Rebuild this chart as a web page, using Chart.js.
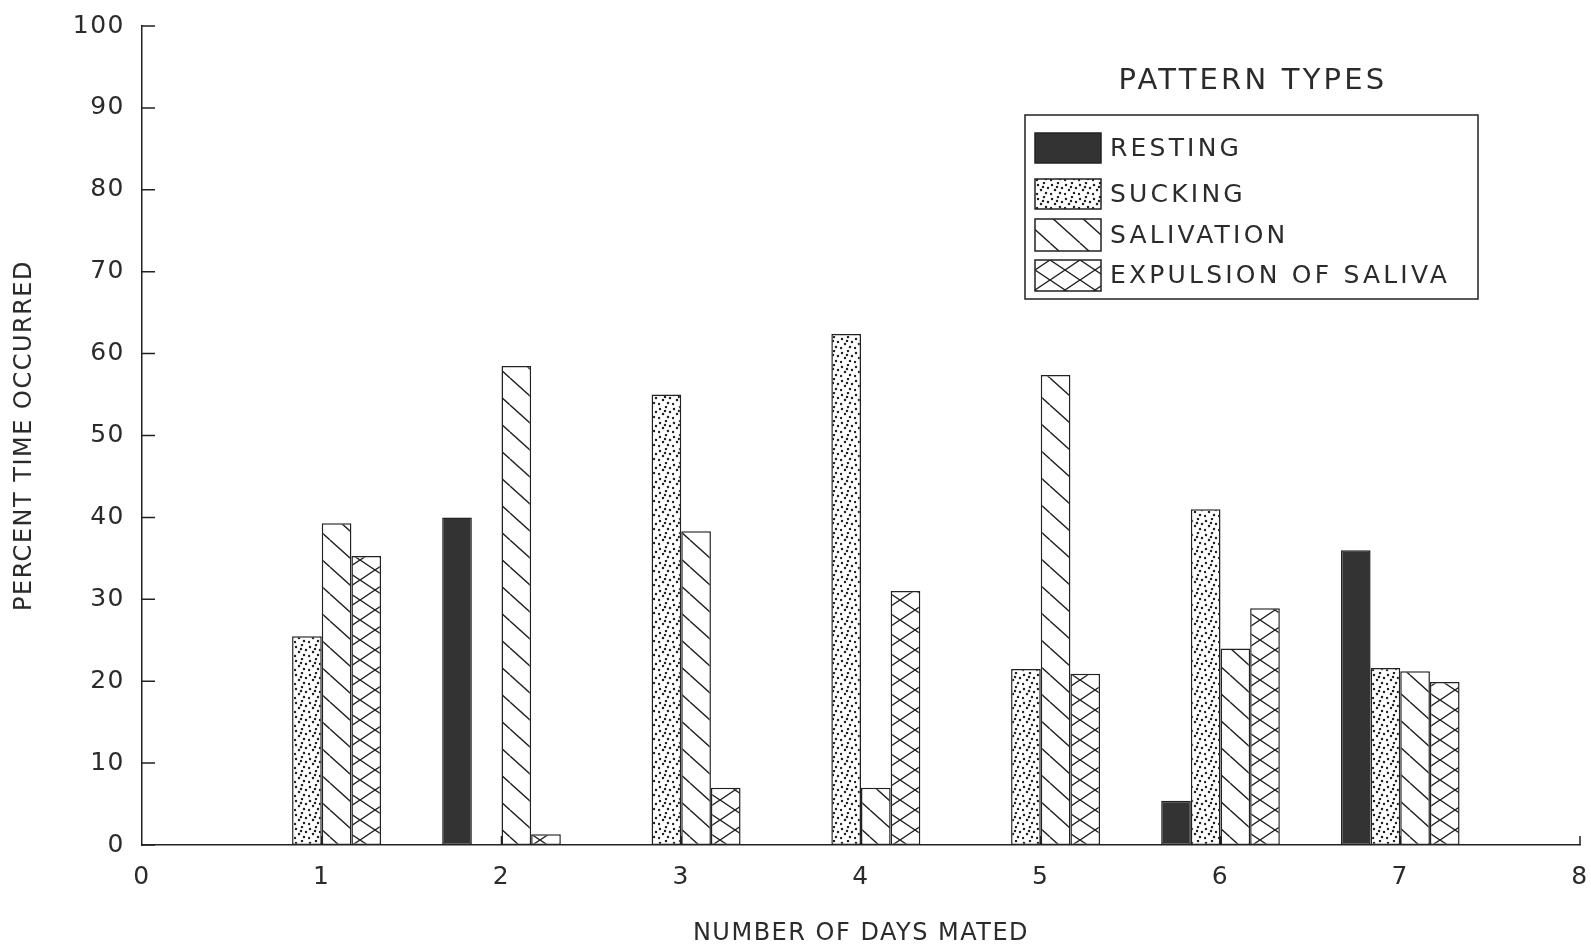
<!DOCTYPE html>
<html>
<head>
<meta charset="utf-8">
<script src="https://cdn.jsdelivr.net/npm/chart.js@4.4.1/dist/chart.umd.min.js"></script>
<style>
  html, body { margin: 0; background: #fff; }
  #wrap { width: 1591px; height: 952px; position: relative; }
</style>
</head>
<body>
<div id="wrap"><canvas id="patternChart"></canvas></div>
<script>
const DAYS = [1, 2, 3, 4, 5, 6, 7];
const RESTING = [0, 40, 0, 0, 0, 5.4, 36];
const SUCKING = [25.5, 0, 55, 62.4, 21.5, 41, 21.6];
const SALIVATION = [39.3, 58.5, 38.3, 7, 57.4, 24, 21.2];
const EXPULSION = [35.3, 1.3, 7, 31, 20.9, 28.9, 19.9];

const X_TICKS = [0, 1, 2, 3, 4, 5, 6, 7, 8];
const Y_TICKS = [0, 10, 20, 30, 40, 50, 60, 70, 80, 90, 100];

const LEGEND_TITLE = 'PATTERN TYPES';
const X_TITLE = 'NUMBER OF DAYS MATED';
const Y_TITLE = 'PERCENT TIME OCCURRED';

const INK = '#222';
const TEXT = '#2b2b2b';
const FONT = "'DejaVu Sans', sans-serif";

Chart.defaults.font.family = FONT;
Chart.defaults.color = TEXT;

// hatch fills, built on small tiles
function makePattern(w, h, paint) {
    const c = document.createElement('canvas');
    c.width = w;
    c.height = h;
    const g = c.getContext('2d');
    g.fillStyle = '#fff';
    g.fillRect(0, 0, w, h);
    g.strokeStyle = INK;
    g.fillStyle = INK;
    g.lineWidth = 1.4;
    paint(g, w, h);
    return g.createPattern(c, 'repeat');
}

const dotFill = makePattern(14, 14, g => {
    [[2, 3], [8, 1], [12, 6], [5, 8], [10, 11], [1, 12], [7, 5]].forEach(([x, y]) => {
        g.beginPath();
        g.arc(x, y, 1.25, 0, Math.PI * 2);
        g.fill();
    });
});

const diagFill = makePattern(30, 27, (g, w, h) => {
    g.beginPath();
    for (let k = -1; k <= 1; k++) {
        g.moveTo(k * w, 0);
        g.lineTo(k * w + w, h);
    }
    g.stroke();
});

const crossFill = makePattern(30, 20, (g, w, h) => {
    g.beginPath();
    for (let k = -1; k <= 1; k++) {
        g.moveTo(k * w, 0);
        g.lineTo(k * w + w, h);
        g.moveTo(k * w, h);
        g.lineTo(k * w + w, 0);
    }
    g.stroke();
});

function series(values) {
    return DAYS.map((d, i) => ({ x: d, y: values[i] }));
}

const spacing = {
    id: 'spacing',
    beforeDraw(chart) {
        chart.ctx.letterSpacing = '1.5px';
    }
};

const inwardTicks = {
    id: 'inwardTicks',
    beforeDatasetsDraw(chart) {
        const { ctx, chartArea, scales: { x, y } } = chart;
        ctx.save();
        ctx.strokeStyle = INK;
        ctx.lineWidth = 1.5;
        ctx.beginPath();
        y.ticks.forEach(t => {
            const py = y.getPixelForValue(t.value);
            ctx.moveTo(chartArea.left, py);
            ctx.lineTo(chartArea.left + 13, py);
        });
        x.ticks.forEach(t => {
            if (t.value === 0) return;
            const px = x.getPixelForValue(t.value);
            ctx.moveTo(px, chartArea.bottom);
            ctx.lineTo(px, chartArea.bottom - 9);
        });
        ctx.stroke();
        ctx.restore();
    }
};

const boxLegend = {
    id: 'boxLegend',
    afterDraw(chart) {
        const ctx = chart.ctx;
        ctx.save();
        ctx.letterSpacing = '3.2px';
        ctx.fillStyle = TEXT;
        ctx.textBaseline = 'middle';
        ctx.textAlign = 'center';
        ctx.font = '29px ' + FONT;
        ctx.fillText(LEGEND_TITLE, 1253, 81);

        ctx.strokeStyle = INK;
        ctx.lineWidth = 1.5;
        ctx.strokeRect(1025, 115, 453, 184);

        const rows = [[133, 163], [179, 209], [219, 251], [260, 291]];
        ctx.font = '25px ' + FONT;
        ctx.textAlign = 'left';
        chart.data.datasets.forEach((ds, i) => {
            const [top, bottom] = rows[i];
            ctx.fillStyle = ds.backgroundColor;
            ctx.fillRect(1035, top, 66, bottom - top);
            ctx.strokeRect(1035, top, 66, bottom - top);
            ctx.fillStyle = TEXT;
            ctx.fillText(ds.label, 1110, (top + bottom) / 2 + 1);
        });
        ctx.restore();
    }
};

function barSet(label, values, fill) {
    return {
        label: label,
        data: series(values),
        backgroundColor: fill,
        borderColor: INK,
        borderWidth: 1.5,
        borderSkipped: false,
        categoryPercentage: 0.66,
        barPercentage: 1.0
    };
}

new Chart(document.getElementById('patternChart'), {
    type: 'bar',
    data: {
        datasets: [
            barSet('RESTING', RESTING, '#333'),
            barSet('SUCKING', SUCKING, dotFill),
            barSet('SALIVATION', SALIVATION, diagFill),
            barSet('EXPULSION OF SALIVA', EXPULSION, crossFill)
        ]
    },
    plugins: [spacing, inwardTicks, boxLegend],
    options: {
        responsive: true,
        maintainAspectRatio: false,
        animation: false,
        layout: { padding: { top: 26, right: 11, left: 0, bottom: 0 } },
        plugins: {
            legend: { display: false },
            tooltip: { enabled: false }
        },
        scales: {
            x: {
                type: 'linear',
                min: 0,
                max: 8,
                offset: false,
                grid: { display: false, drawTicks: false },
                border: { display: true, color: INK, width: 1.5 },
                afterBuildTicks: s => { s.ticks = X_TICKS.map(v => ({ value: v })); },
                afterFit: s => {
                    s.height = 107;
                    s.paddingLeft = 0;
                    s.paddingRight = 0;
                },
                ticks: { font: { size: 25 }, color: TEXT, padding: 17 },
                title: {
                    display: true,
                    text: X_TITLE,
                    font: { size: 24 },
                    color: TEXT,
                    padding: { top: 0, bottom: 4 }
                }
            },
            y: {
                min: 0,
                max: 100,
                grid: { display: false, drawTicks: false },
                border: { display: true, color: INK, width: 1.5 },
                afterBuildTicks: s => { s.ticks = Y_TICKS.map(v => ({ value: v })); },
                afterFit: s => {
                    s.width = 142;
                    s.paddingTop = 0;
                    s.paddingBottom = 0;
                },
                ticks: { font: { size: 25 }, color: TEXT, padding: 17 },
                title: {
                    display: true,
                    text: Y_TITLE,
                    font: { size: 24 },
                    color: TEXT,
                    padding: { top: 10, bottom: 0 }
                }
            }
        }
    }
});
</script>
</body>
</html>
